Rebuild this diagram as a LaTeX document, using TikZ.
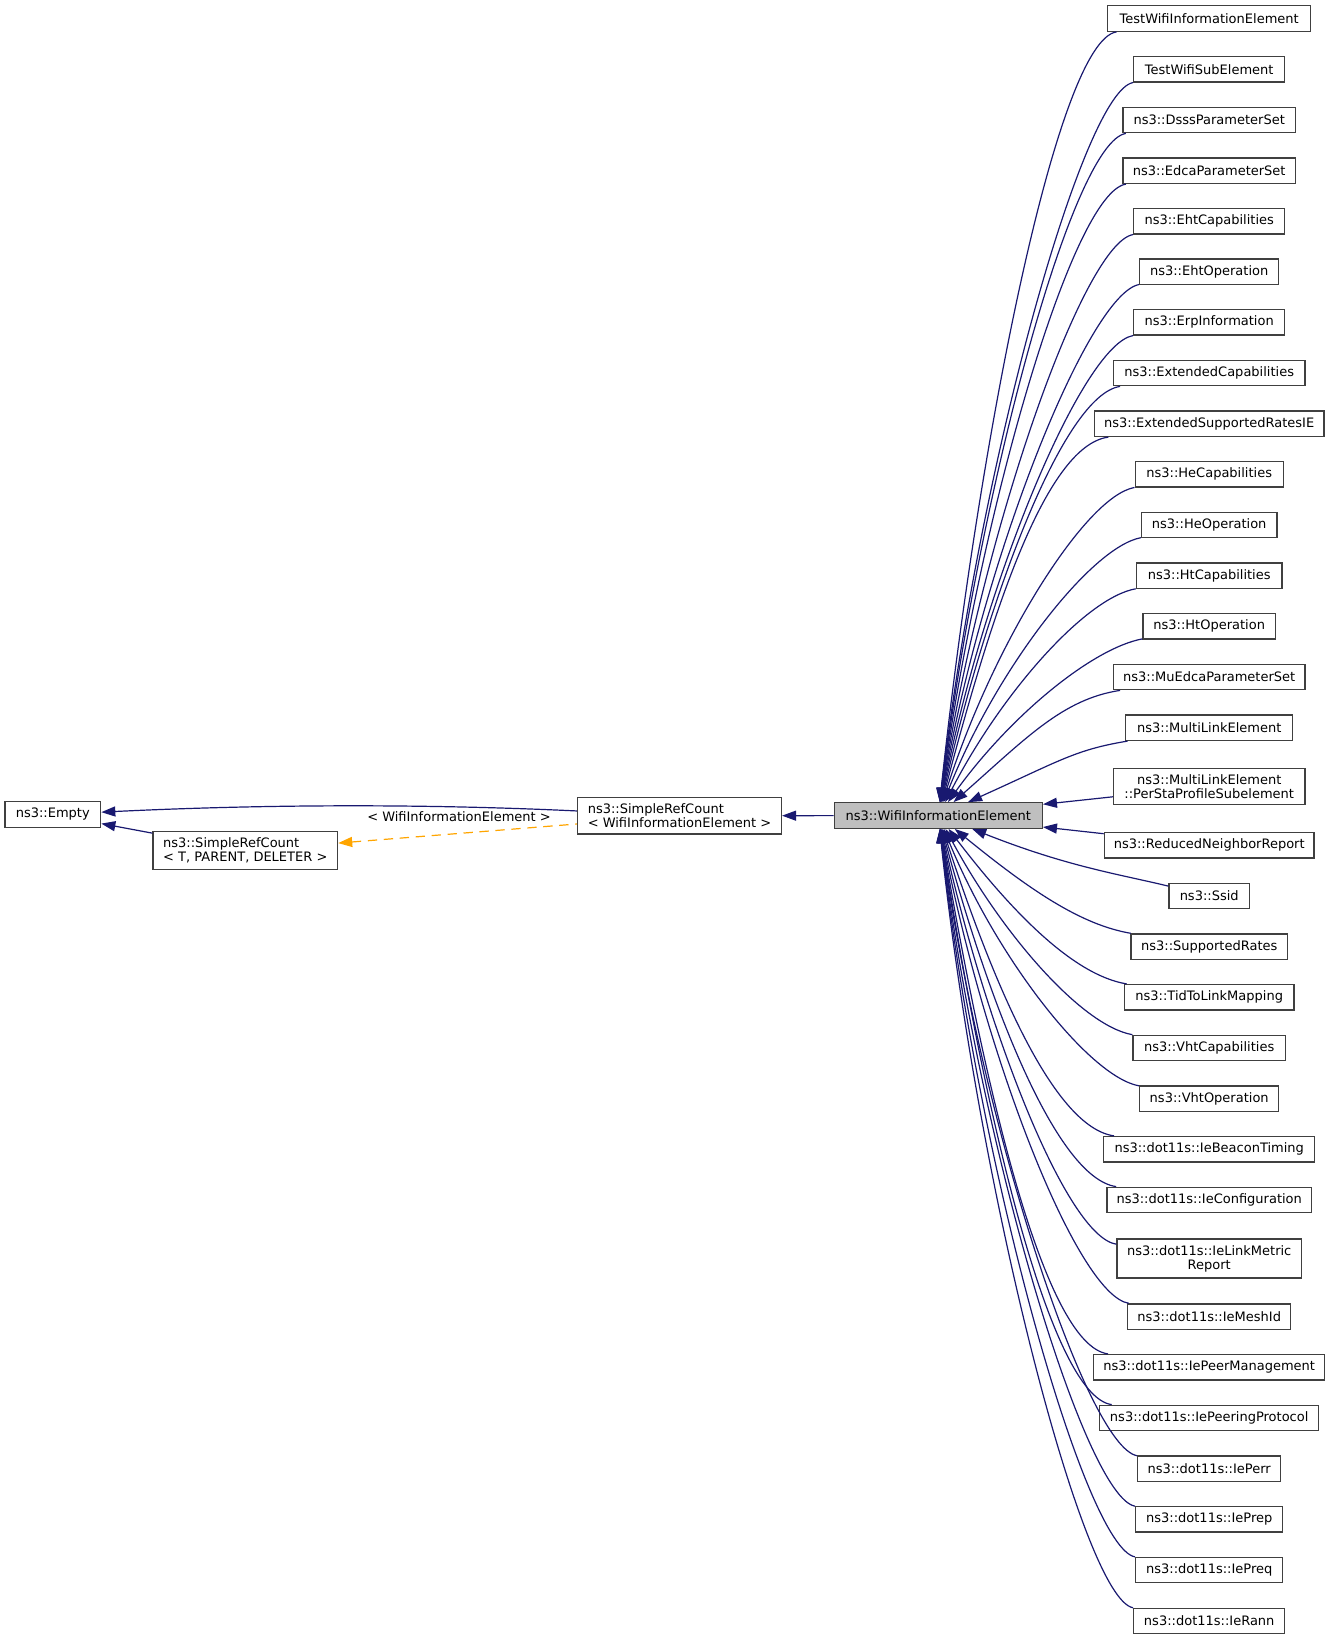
\documentclass[tikz,border=0pt]{standalone}
\usepackage{fontspec}
\setmainfont{DejaVu Sans}
\usetikzlibrary{arrows.meta,calc}

\definecolor{edgeblue}{HTML}{191970}
\definecolor{tmplorange}{HTML}{FFA500}
\definecolor{boxgray}{HTML}{404040}
\definecolor{mainfill}{HTML}{BFBFBF}

\begin{document}
\begin{tikzpicture}[x=0.75pt,y=-0.75pt,
  every node/.style={font=\fontsize{9.75}{10.5}\selectfont},
  cls/.style={draw=boxgray,line width=1pt,fill=white,inner xsep=2pt,inner ysep=4.7pt,minimum height=19.1pt,align=center},
  inh/.style={draw=edgeblue,line width=0.9pt,{Triangle[length=10.5pt,width=7.5pt]}-},
  tmpl/.style={draw=tmplorange,line width=0.9pt,dash pattern=on 7pt off 5pt,{Triangle[length=10.5pt,width=7.5pt]}-}]

\useasboundingbox (0,0) rectangle (1331,1640);

\node[cls,minimum width=71.8pt](empty) at (52.8,814.5) {ns3::Empty};
\node[cls,align=left,inner xsep=7.6pt](srcT) at (245.3,850.5) {ns3::SimpleRefCount\\< T, PARENT, DELETER >};
\node[cls,align=left,inner xsep=7.6pt](srcW) at (679.5,815.8) {ns3::SimpleRefCount\\< WifiInformationElement >};
\node[cls,fill=mainfill,minimum width=156pt](wie) at (938.3,815.5) {ns3::WifiInformationElement};
\node(lbl) at (459,816.7) {< WifiInformationElement >};

\draw[inh](srcW)--(wie);
\draw[inh](empty) .. controls (270,804) and (430,804) .. (srcW);
\draw[inh](empty)--(srcT);
\draw[tmpl](srcT)--(srcW);

% derived classes, one column
\foreach \i/\y/\w/\t in {1/18.5/203/TestWifiInformationElement,2/69.3/151/TestWifiSubElement,
  3/120/172.3/ns3::DsssParameterSet,4/170.7/172.3/ns3::EdcaParameterSet,5/221.3/151/ns3::EhtCapabilities,
  6/271.7/139/ns3::EhtOperation,7/322.3/151/ns3::ErpInformation,8/373/191.4/ns3::ExtendedCapabilities,
  9/423.7/229.7/ns3::ExtendedSupportedRatesIE,10/474.3/148/ns3::HeCapabilities,11/525/135.4/ns3::HeOperation,
  12/575.7/145.7/ns3::HtCapabilities,13/626.3/132.3/ns3::HtOperation,14/677/191.4/ns3::MuEdcaParameterSet,
  15/727.7/167/ns3::MultiLinkElement,16/786.5/191.4/{ns3::MultiLinkElement\\::PerStaProfileSubelement},
  17/845.3/209.7/ns3::ReducedNeighborReport,18/896/80.3/ns3::Ssid,19/946.7/156.3/ns3::SupportedRates,
  20/997.3/169.7/ns3::TidToLinkMapping,21/1048/152.3/ns3::VhtCapabilities,22/1098.7/139/ns3::VhtOperation,
  23/1149.3/211/ns3::dot11s::IeBeaconTiming,24/1200/204.3/ns3::dot11s::IeConfiguration,
  25/1258.5/184.3/{ns3::dot11s::IeLinkMetric\\Report},26/1316.7/163/ns3::dot11s::IeMeshId,
  27/1367.3/231/ns3::dot11s::IePeerManagement,28/1418/219/ns3::dot11s::IePeeringProtocol,
  29/1468.7/143/ns3::dot11s::IePerr,30/1519.3/147/ns3::dot11s::IePrep,31/1570/147/ns3::dot11s::IePreq,
  32/1621/151/ns3::dot11s::IeRann}{
	\node[cls,minimum width=0.75pt*\w](c\i) at (1209.2,\y) {\t};
	\pgfmathsetmacro\D{abs(\y-815.5)}
	\pgfmathsetmacro\s{sign(\y-815.5)}
	\ifdim\D pt<40pt
		\draw[inh](wie)--(c\i);
	\else
		\pgfmathsetmacro\ax{968.3+8000/\D}
		\pgfmathsetmacro\ay{815.5+\s*(0.45*\D+15)}
		\pgfmathsetmacro\by{-22*\s}
		\draw[inh](wie) .. controls (\ax,\ay) and ($(c\i.west)+(-50,\by)$) .. (c\i);
	\fi
}

\end{tikzpicture}
\end{document}
